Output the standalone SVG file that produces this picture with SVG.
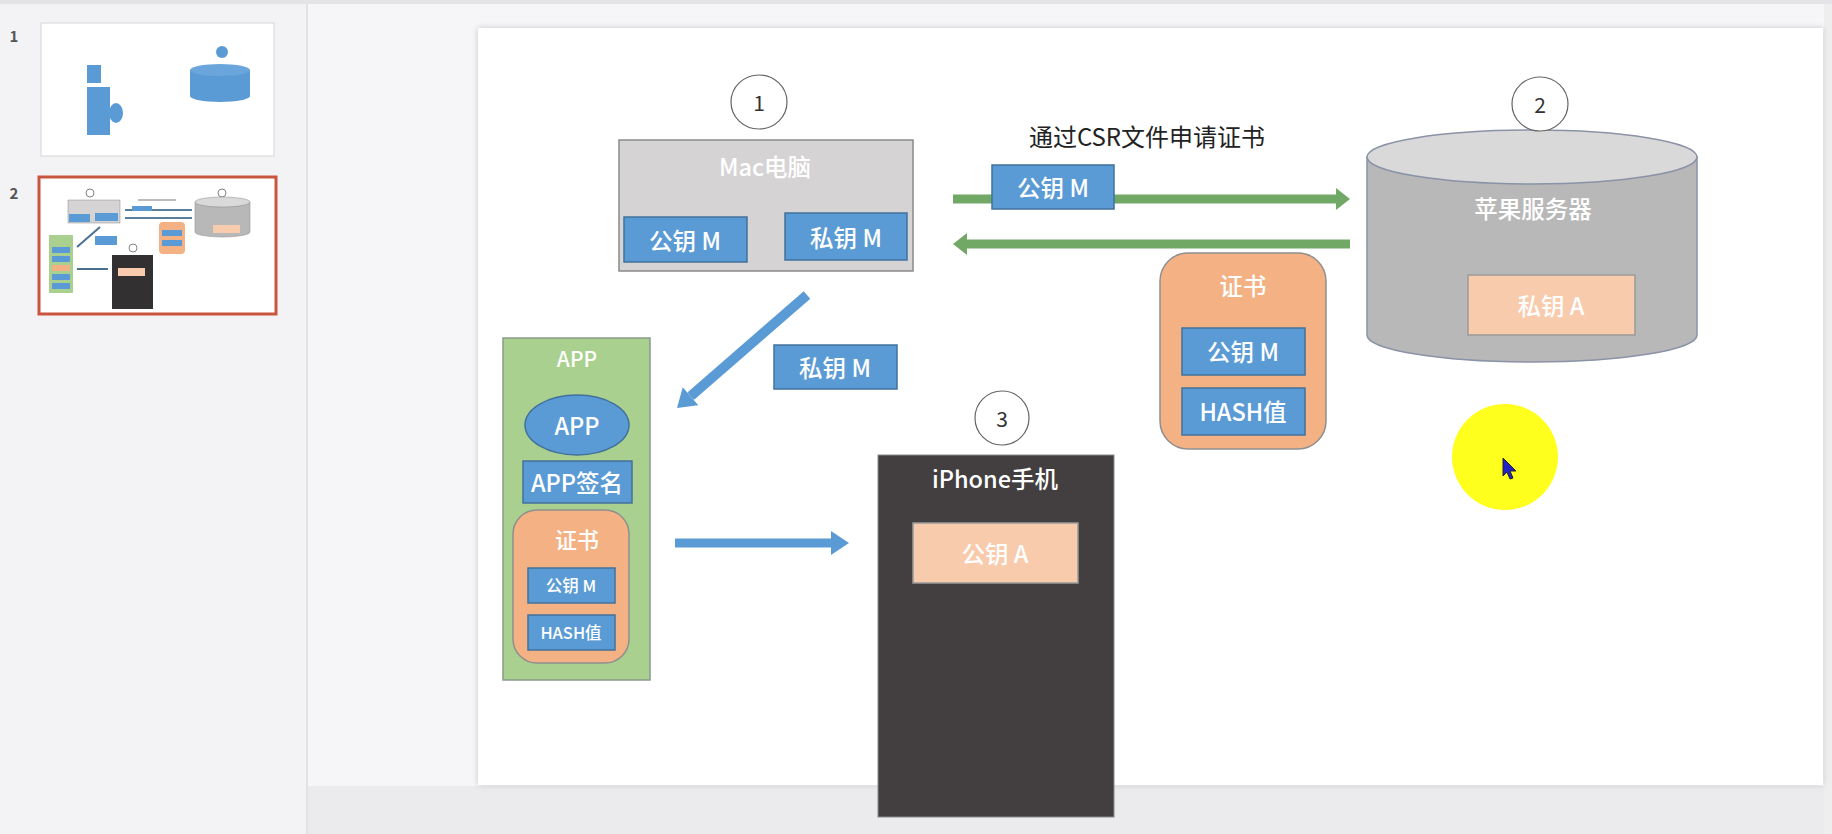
<svg xmlns="http://www.w3.org/2000/svg" width="1832" height="834" viewBox="0 0 1832 834">
<style>
text{font-family:"Noto Sans CJK SC","Noto Sans",sans-serif;}
.w{fill:#ffffff;text-anchor:middle;dominant-baseline:central;}
.blue{fill:#5b9bd5;stroke:#41719c;stroke-width:1.5;}
.peach{fill:#f8cbad;stroke:#9a9a9a;stroke-width:1.5;}
.cert{fill:#f4b183;stroke:#8f8f8f;stroke-width:1.5;}
.num{fill:#ffffff;stroke:#666;stroke-width:1.2;}
.numt{fill:#333;font-size:21px;text-anchor:middle;dominant-baseline:central;}
.t22{font-size:23.5px;font-weight:500;}
.t17{font-size:16.5px;font-weight:500;}
</style>
<defs>
<marker id="gh" markerUnits="userSpaceOnUse" markerWidth="14" markerHeight="22" refX="0" refY="11" orient="auto"><path d="M0,0 L14,11 L0,22 Z" fill="#72a865"/></marker>
<marker id="bh" markerUnits="userSpaceOnUse" markerWidth="18" markerHeight="24" refX="0" refY="12" orient="auto"><path d="M0,0 L18,12 L0,24 Z" fill="#5b9bd5"/></marker>
<filter id="sh" x="-5%" y="-5%" width="110%" height="110%"><feGaussianBlur stdDeviation="3"/></filter>
</defs>
<!-- window -->
<rect x="0" y="0" width="1832" height="834" fill="#f6f6f8"/>
<rect x="0" y="0" width="307" height="834" fill="#f3f3f5"/>
<rect x="306" y="0" width="2" height="834" fill="#e2e2e4"/>
<rect x="0" y="0" width="1832" height="4" fill="#e4e4e6"/>
<rect x="308" y="786" width="1524" height="48" fill="#ebebed"/>
<rect x="1824" y="4" width="8" height="830" fill="#eeeeef"/>
<!-- thumbnails -->
<g id="thumbs">
<text x="14" y="35" font-size="15" font-weight="bold" fill="#555" text-anchor="middle" dominant-baseline="central">1</text>
<rect x="41" y="23" width="233" height="133" fill="#fff" stroke="#d6d6d6" stroke-width="1"/>
<rect x="87" y="65" width="14" height="18" fill="#5b9bd5"/>
<rect x="87" y="87" width="23" height="48" fill="#5b9bd5"/>
<ellipse cx="116" cy="113" rx="7" ry="10" fill="#5b9bd5"/>
<path d="M190,70 L190,96 A30,6 0 0 0 250,96 L250,70 Z" fill="#5b9bd5"/>
<ellipse cx="220" cy="70" rx="30" ry="6" fill="#6aa6dc"/>
<circle cx="222" cy="52" r="6" fill="#5b9bd5"/>
<text x="14" y="192" font-size="15" font-weight="bold" fill="#555" text-anchor="middle" dominant-baseline="central">2</text>
<rect x="39" y="177" width="237" height="137" fill="#fff" stroke="#c9553f" stroke-width="3"/>
<circle cx="90" cy="193" r="4" fill="#fff" stroke="#666" stroke-width="0.8"/>
<rect x="68" y="200" width="52" height="23" fill="#d5d3d4" stroke="#8a8a8a" stroke-width="0.5"/>
<rect x="69" y="214" width="21" height="8" fill="#5b9bd5"/>
<rect x="95" y="213" width="23" height="8" fill="#5b9bd5"/>
<rect x="138" y="199" width="38" height="2" fill="#bbb"/>
<rect x="125" y="209" width="67" height="2" fill="#5b7f9a"/>
<rect x="125" y="217" width="67" height="2" fill="#5b7f9a"/>
<rect x="132" y="206" width="20" height="5" fill="#5b9bd5"/>
<circle cx="222" cy="193" r="4" fill="#fff" stroke="#666" stroke-width="0.8"/>
<path d="M195,202 L195,232 A27.5,5 0 0 0 250,232 L250,202 Z" fill="#b9b8b9" stroke="#888" stroke-width="0.5"/>
<ellipse cx="222.5" cy="202" rx="27.5" ry="5" fill="#dad9da" stroke="#888" stroke-width="0.5"/>
<rect x="213" y="225" width="27" height="8" fill="#f8cbad"/>
<rect x="159" y="222" width="26" height="32" rx="4" fill="#f4b183"/>
<rect x="162" y="230" width="20" height="6" fill="#5b9bd5"/>
<rect x="162" y="240" width="20" height="6" fill="#5b9bd5"/>
<line x1="100" y1="227" x2="77" y2="247" stroke="#4a6f8f" stroke-width="2"/>
<rect x="95" y="236" width="22" height="9" fill="#5b9bd5"/>
<rect x="49" y="235" width="24" height="58" fill="#a9d08e"/>
<rect x="52" y="247" width="18" height="6" fill="#5b9bd5"/>
<rect x="52" y="256" width="18" height="6" fill="#5b9bd5"/>
<rect x="52" y="265" width="18" height="6" fill="#f4b183"/>
<rect x="52" y="274" width="18" height="6" fill="#5b9bd5"/>
<rect x="52" y="283" width="18" height="6" fill="#5b9bd5"/>
<line x1="77" y1="269" x2="108" y2="269" stroke="#4a6f8f" stroke-width="2"/>
<circle cx="133" cy="248" r="4" fill="#fff" stroke="#666" stroke-width="0.8"/>
<rect x="112" y="255" width="41" height="54" fill="#333031"/>
<rect x="118" y="268" width="27" height="8" fill="#f8cbad"/>
</g>
<!-- slide -->
<rect x="478" y="28" width="1345" height="757" fill="#c8c8cc" filter="url(#sh)"/>
<rect x="478" y="28" width="1345" height="757" fill="#ffffff"/>
<!-- connectors -->
<g id="connectors">
<line x1="953" y1="199" x2="1336" y2="199" stroke="#72a865" stroke-width="9" marker-end="url(#gh)"/>
<line x1="1350" y1="244" x2="967" y2="244" stroke="#72a865" stroke-width="9" marker-end="url(#gh)"/>
<line x1="807" y1="295" x2="690.6" y2="396.2" stroke="#5b9bd5" stroke-width="10" marker-end="url(#bh)"/>
<line x1="675" y1="543" x2="831" y2="543" stroke="#5b9bd5" stroke-width="9" marker-end="url(#bh)"/>
</g>
<g id="csr-label">
<text x="1147" y="135" font-size="24" fill="#222" text-anchor="middle" dominant-baseline="central">通过CSR文件申请证书</text>
</g>
<g id="pubM-transfer">
<rect class="blue" x="992" y="165" width="122" height="44"/>
<text class="w t22" x="1053" y="187">公钥 M</text>
</g>
<g id="privM-transfer">
<rect class="blue" x="774" y="345" width="123" height="44"/>
<text class="w t22" x="835" y="367">私钥 M</text>
</g>
<!-- numbers -->
<g id="num1"><ellipse class="num" cx="759" cy="102" rx="28" ry="27"/><text class="numt" x="759" y="102">1</text></g>
<!-- Mac -->
<g id="mac">
<rect x="619" y="140" width="294" height="131" fill="#d5d3d4" stroke="#8a8a8a" stroke-width="1.5"/>
<text class="w t22" x="765" y="166">Mac电脑</text>
<rect class="blue" x="624" y="217" width="123" height="45"/>
<text class="w t22" x="685" y="240">公钥 M</text>
<rect class="blue" x="785" y="213" width="122" height="47"/>
<text class="w t22" x="846" y="237">私钥 M</text>
</g>
<!-- server -->
<g id="server">
<path d="M1367,157 L1367,335 A165,27 0 0 0 1697,335 L1697,157 Z" fill="#b9b8b9" stroke="#8a92a6" stroke-width="1.5"/>
<ellipse cx="1532" cy="157" rx="165" ry="27" fill="#dad9da" stroke="#8a92a6" stroke-width="1.5"/>
<text class="w t22" x="1533" y="208">苹果服务器</text>
<rect class="peach" x="1468" y="275" width="167" height="60"/>
<text class="w t22" x="1551" y="305">私钥 A</text>
</g>
<g id="num2"><ellipse class="num" cx="1540" cy="104" rx="28" ry="27"/><text class="numt" x="1540" y="104">2</text></g>
<!-- certificate -->
<g id="cert">
<rect class="cert" x="1160" y="253" width="166" height="196" rx="28"/>
<text class="w t22" x="1243" y="285">证书</text>
<rect class="blue" x="1182" y="328" width="123" height="47"/>
<text class="w t22" x="1243" y="351">公钥 M</text>
<rect class="blue" x="1182" y="388" width="123" height="47"/>
<text class="w t22" x="1243" y="411">HASH值</text>
</g>
<!-- app -->
<g id="app">
<rect x="503" y="338" width="147" height="342" fill="#a9d08e" stroke="#8a9a8a" stroke-width="1.5"/>
<text class="w" x="577" y="358" font-size="21" font-weight="500">APP</text>
<ellipse cx="577" cy="425" rx="52" ry="30" fill="#5b9bd5" stroke="#41719c" stroke-width="1.5"/>
<text class="w t22" x="577" y="425">APP</text>
<rect class="blue" x="523" y="461" width="109" height="42"/>
<text class="w t22" x="577" y="482">APP签名</text>
<rect class="cert" x="513" y="510" width="116" height="153" rx="24"/>
<text class="w" x="577" y="538" font-size="22" font-weight="500">证书</text>
<rect class="blue" x="528" y="568" width="87" height="35"/>
<text class="w t17" x="571" y="585">公钥 M</text>
<rect class="blue" x="528" y="615" width="87" height="35"/>
<text class="w t17" x="571" y="632">HASH值</text>
</g>
<!-- iphone -->
<g id="iphone">
<rect x="878" y="455" width="236" height="362" fill="#433f40" stroke="#8a8a8a" stroke-width="1"/>
<text class="w t22" x="995" y="478">iPhone手机</text>
<rect class="peach" x="913" y="523" width="165" height="60"/>
<text class="w t22" x="995" y="553">公钥 A</text>
</g>
<g id="num3"><ellipse class="num" cx="1002" cy="418" rx="27" ry="27"/><text class="numt" x="1002" y="418">3</text></g>
<!-- pointer highlight -->
<g id="pointer">
<circle cx="1505" cy="457" r="53" fill="#ffff1e"/>
<path d="M1503,458 L1503,476 L1507,472 L1510,479 L1513,478 L1510,471 L1516,471 Z" fill="#2323c8" stroke="#222" stroke-width="1"/>
</g>
</svg>
